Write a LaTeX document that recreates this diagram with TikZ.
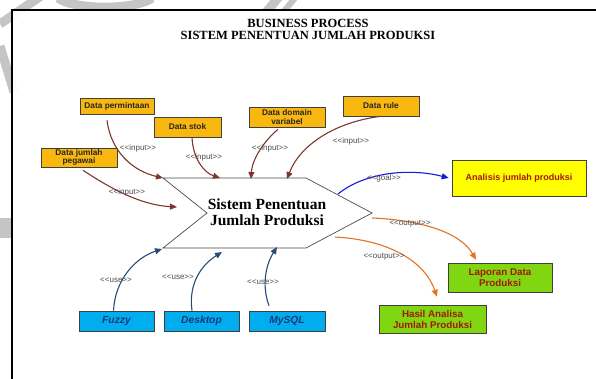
\documentclass[tikz,border=0pt]{standalone}
\usepackage{fontspec}
\setmainfont{Liberation Serif}
\setsansfont{Liberation Sans}
\usetikzlibrary{arrows.meta,calc}

\definecolor{dataFill}{RGB}{248,184,16}
\definecolor{goalFill}{RGB}{255,255,0}
\definecolor{outFill}{RGB}{128,214,16}
\definecolor{toolFill}{RGB}{0,174,239}
\definecolor{inArrow}{RGB}{125,55,45}
\definecolor{useArrow}{RGB}{40,75,120}
\definecolor{outArrow}{RGB}{225,115,35}
\definecolor{goalArrow}{RGB}{25,25,220}
\definecolor{redText}{RGB}{165,25,10}
\definecolor{navyText}{RGB}{25,55,120}
\definecolor{markGray}{RGB}{150,150,150}

\begin{document}
\begin{tikzpicture}[x=1pt,y=-1pt,
  basebox/.style={draw=black!75, line width=0.6pt, inner sep=0pt, align=center,
    font=\sffamily\bfseries\fontsize{8.3}{8.5}\selectfont},
  inbox/.style={basebox, fill=dataFill, text=black!85},
  goalnode/.style={basebox, fill=goalFill, text=redText,
    font=\sffamily\bfseries\fontsize{9}{10}\selectfont},
  outnode/.style={basebox, fill=outFill, text=redText,
    font=\sffamily\bfseries\fontsize{9.8}{11}\selectfont},
  toolnode/.style={basebox, fill=toolFill, text=navyText,
    font=\sffamily\bfseries\itshape\fontsize{10.3}{11}\selectfont},
  lbl/.style={font=\sffamily\fontsize{8}{8.5}\selectfont, text=black!70, inner sep=0pt},
  flow/.style={line width=1.1pt, -{Triangle[length=7pt,width=6pt]}},
  inflow/.style={flow, draw=inArrow},
  useflow/.style={flow, draw=useArrow},
  outflow/.style={flow, draw=outArrow},
  goalflow/.style={flow, draw=goalArrow},
]
\useasboundingbox (0,0) rectangle (596,379);
\clip (0,0) rectangle (596,379);
\fill[white] (0,0) rectangle (596,379);

% faint logo marks behind the sheet
\begin{scope}[markGray, line width=9pt, opacity=0.55]
  \draw (0,24) -- (44,-6);
  \draw (0,46) -- (14,92);
  \draw (58,-2) arc[start angle=200, end angle=340, x radius=50, y radius=-14];
  \fill (262,10) -- (274,10) -- (284,-2) -- (272,-2) -- cycle;
  \fill (281,10) -- (289,10) -- (299,-2) -- (291,-2) -- cycle;
  \fill (0,218) rectangle (11,238);
\end{scope}
\fill[white, opacity=0.93] (12,10) rectangle (600,385);

% sheet frame
\draw[line width=1.8pt] (12,390) -- (12,10) -- (605,10);

% title
\node[font=\bfseries\fontsize{12.5}{12}\selectfont, align=center] (title) at (308,29)
  {BUSINESS PROCESS\\SISTEM PENENTUAN JUMLAH PRODUKSI};

% central process shape
\draw[black!70, line width=0.7pt]
  (163,178) coordinate (pTL) -- (306,178) coordinate (pTR) -- (372,213) coordinate (pTip)
  -- (306,248) coordinate (pBR) -- (163,248) coordinate (pBL) -- (207,213) coordinate (pNotch) -- cycle;
\node[font=\bfseries\fontsize{15.5}{16}\selectfont, align=center] (proc) at (267,212)
  {Sistem Penentuan\\Jumlah Produksi};

% inputs
\node[inbox, minimum width=74pt, minimum height=16pt] (perm) at (117,106) {Data permintaan};
\node[inbox, minimum width=67pt, minimum height=20pt] (stok) at (187.5,127) {Data stok};
\node[inbox, minimum width=76pt, minimum height=20pt] (domain) at (287,117) {Data domain\\variabel};
\node[inbox, minimum width=76pt, minimum height=20pt] (rule) at (381,106) {Data rule};
\node[inbox, minimum width=76pt, minimum height=19pt] (pegawai) at (79,157.5) {Data jumlah\\pegawai};

% goal and outputs
\node[goalnode, minimum width=134pt, minimum height=36pt] (goal) at (519,178) {Analisis jumlah produksi};
\node[outnode, minimum width=104pt, minimum height=29pt] (laporan) at (500,277.5) {Laporan Data\\Produksi};
\node[outnode, minimum width=107pt, minimum height=28pt] (hasil) at (432.5,319) {Hasil Analisa\\Jumlah Produksi};

% tools
\node[toolnode, minimum width=75pt, minimum height=20pt] (fuzzy) at (116.5,321) {Fuzzy};
\node[toolnode, minimum width=75pt, minimum height=20pt] (desktop) at (201.5,321) {Desktop};
\node[toolnode, minimum width=76pt, minimum height=20pt] (mysql) at (287,321) {MySQL};

% arrow end points on the process shape
\coordinate (tPerm) at (163,178);
\coordinate (tStok) at (220,178);
\coordinate (tDomain) at (251,179);
\coordinate (tRule) at (287,179);
\coordinate (tPegawai) at (177,207);
\coordinate (sGoal) at (338,194);
\coordinate (sOut1) at (372,218);
\coordinate (sOut2) at (335,237);
\coordinate (tFuzzy) at (162,249);
\coordinate (tDesktop) at (222,252);
\coordinate (tMysql) at (277,247);

% input flows
\draw[inflow] ($(perm.south)+(-10,6)$) .. controls (111,152) and (133,171) .. (tPerm);
\draw[inflow] ($(stok.south)+(4.5,0)$) .. controls (193,160) and (205,173) .. (tStok);
\draw[inflow] ($(domain.south)+(-9,2)$) .. controls (263,142) and (252,160) .. (tDomain);
\draw[inflow] (rule.south) .. controls (335,122) and (300,145) .. (tRule);
\draw[inflow] ($(pegawai.south)+(4,3)$) .. controls (110,188) and (140,205) .. (tPegawai);

% goal and output flows
\draw[goalflow] (sGoal) .. controls (365,172) and (410,168) .. ($(goal.west)+(-3,0)$);
\draw[outflow] (sOut1) .. controls (420,220) and (460,232) .. ($(laporan.north)+(-24,-3)$);
\draw[outflow] (sOut2) .. controls (390,240) and (425,262) .. ($(hasil.north)+(4.5,-8)$);

% tool usage flows
\draw[useflow] ($(fuzzy.north)+(-3,0)$) .. controls (115,280) and (135,258) .. (tFuzzy);
\draw[useflow] ($(desktop.north)+(-9.5,0)$) .. controls (188,282) and (203,264) .. (tDesktop);
\draw[useflow] ($(mysql.north)+(-18,-5)$) .. controls (262,287) and (265,266) .. (tMysql);

% stereotype labels
\node[lbl] (l1) at (138,148) {<{}<input>{}>};
\node[lbl] (l2) at (204,157) {<{}<input>{}>};
\node[lbl] (l3) at (270,148) {<{}<input>{}>};
\node[lbl] (l4) at (351,141) {<{}<input>{}>};
\node[lbl] (l5) at (127,192) {<{}<input>{}>};
\node[lbl] (l6) at (384,178) {<{}<goal>{}>};
\node[lbl] (l7) at (410,224) {<{}<output>{}>};
\node[lbl] (l8) at (384,257) {<{}<output>{}>};
\node[lbl] (l9) at (116,280) {<{}<use>{}>};
\node[lbl] (l10) at (178,277) {<{}<use>{}>};
\node[lbl] (l11) at (263,282) {<{}<use>{}>};
\end{tikzpicture}
\end{document}
